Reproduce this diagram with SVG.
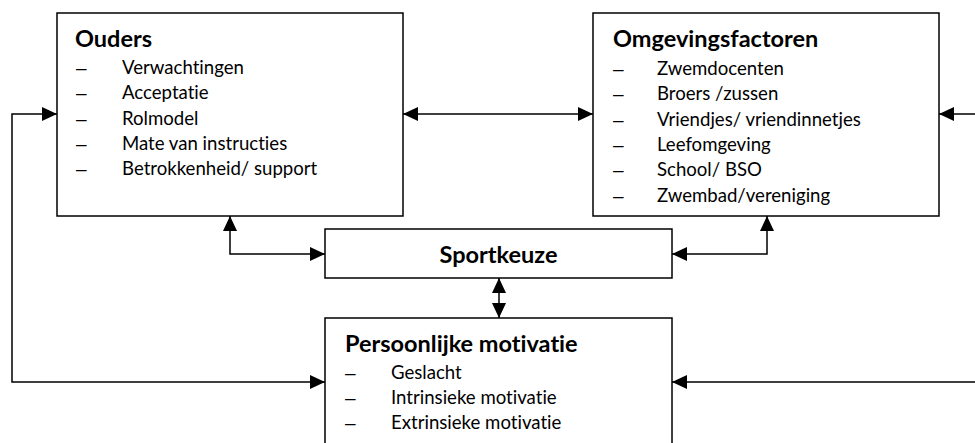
<svg xmlns="http://www.w3.org/2000/svg" width="975" height="443" viewBox="0 0 975 443">
<style>
.box{fill:#fff;stroke:#000;stroke-width:1.5}
.t{font-family:Lato,"Liberation Sans",sans-serif;font-size:23.5px;font-weight:bold;fill:#000;font-variant-ligatures:none}
.i{font-family:Lato,"Liberation Sans",sans-serif;font-size:18.6px;fill:#000;font-variant-ligatures:none}
.d{font-family:"Liberation Sans",sans-serif;font-size:19px;fill:#000}
.c{fill:none;stroke:#000;stroke-width:1.5;marker-start:url(#ah);marker-end:url(#ah)}
.s{fill:none;stroke:#000;stroke-width:1.5;marker-end:url(#ah)}
</style>
<defs>
<marker id="ah" markerUnits="userSpaceOnUse" markerWidth="15" markerHeight="14" viewBox="0 0 15 14" refX="15" refY="7" orient="auto-start-reverse">
<path d="M0,0 L15,7 L0,14 Z" fill="#000"/>
</marker>
</defs>
<rect width="975" height="443" fill="#fff"/>
<g id="connectors">
<path class="c" d="M403,114 L593,114"/>
<path class="c" d="M57,114 L12,114 L12,382 L325,382"/>
<path class="s" d="M975,114 L939,114"/>
<path class="s" d="M975,382 L672,382"/>
<path class="c" d="M230,216 L230,254 L325,254"/>
<path class="c" d="M767,216 L767,254 L672,254"/>
<path class="c" d="M499,278 L499,318"/>
</g>
<g id="ouders">
<rect class="box" x="57" y="13" width="346" height="203"/>
<text class="t" x="75" y="47">Ouders</text>
<text class="d" x="76" y="74">–</text><text class="i" x="122" y="74">Verwachtingen</text>
<text class="d" x="76" y="99">–</text><text class="i" x="122" y="99">Acceptatie</text>
<text class="d" x="76" y="124.5">–</text><text class="i" x="122" y="124.5">Rolmodel</text>
<text class="d" x="76" y="150">–</text><text class="i" x="122" y="150">Mate van instructies</text>
<text class="d" x="76" y="175">–</text><text class="i" x="122" y="175">Betrokkenheid/ support</text>
</g>
<g id="omgevingsfactoren">
<rect class="box" x="593" y="13" width="346" height="203"/>
<text class="t" x="613" y="47">Omgevingsfactoren</text>
<text class="d" x="613" y="74.5">–</text><text class="i" x="657" y="74.5">Zwemdocenten</text>
<text class="d" x="613" y="100">–</text><text class="i" x="657" y="100">Broers /zussen</text>
<text class="d" x="613" y="125.5">–</text><text class="i" x="657" y="125.5">Vriendjes/ vriendinnetjes</text>
<text class="d" x="613" y="151">–</text><text class="i" x="657" y="151">Leefomgeving</text>
<text class="d" x="613" y="176">–</text><text class="i" x="657" y="176">School/ BSO</text>
<text class="d" x="613" y="201.5">–</text><text class="i" x="657" y="201.5">Zwembad/vereniging</text>
</g>
<g id="sportkeuze">
<rect class="box" x="325" y="229" width="347" height="49"/>
<text class="t" x="498.5" y="263" text-anchor="middle">Sportkeuze</text>
</g>
<g id="persoonlijke-motivatie">
<rect class="box" x="325" y="318" width="347" height="140"/>
<text class="t" x="345" y="352">Persoonlijke motivatie</text>
<text class="d" x="345" y="379">–</text><text class="i" x="391" y="379">Geslacht</text>
<text class="d" x="345" y="404">–</text><text class="i" x="391" y="404">Intrinsieke motivatie</text>
<text class="d" x="345" y="429">–</text><text class="i" x="391" y="429">Extrinsieke motivatie</text>
</g>
</svg>
